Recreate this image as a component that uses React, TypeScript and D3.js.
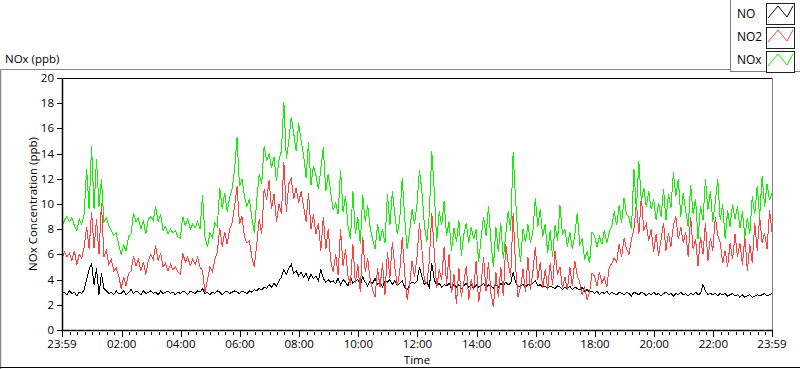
import React from "react";
import * as d3 from "d3";

// 5-minute samples from 23:59 to 23:59 next day (289 points each)
const noValues = [
  2.9, 3.0, 2.8, 3.1, 2.9, 3.0, 2.7, 3.0, 2.9, 3.2, 4.0, 4.8,
  5.3, 3.6, 4.9, 2.8, 4.5, 3.3, 3.1, 2.9, 3.0, 2.8, 3.1, 2.9,
  2.9, 3.1, 2.8, 3.0, 3.2, 2.9, 3.1, 3.0, 2.8, 3.1, 2.9, 3.0,
  3.1, 2.9, 3.0, 2.8, 3.1, 2.9, 3.0, 3.1, 2.9, 3.0, 2.8, 3.0,
  2.9, 3.1, 3.0, 2.8, 3.1, 3.0, 2.9, 3.1, 3.0, 3.3, 2.9, 3.0,
  2.8, 3.0, 2.9, 3.1, 3.0, 2.8, 3.0, 3.1, 2.9, 3.0, 3.1, 3.0,
  2.9, 3.1, 3.0, 2.9, 3.1, 3.0, 3.2, 3.1, 3.3, 3.2, 3.4, 3.3,
  3.6, 3.4, 3.7, 3.5, 3.9, 4.2, 4.8, 4.4, 4.9, 5.2, 4.5, 4.7,
  4.3, 4.6, 4.2, 4.5, 4.0, 4.4, 4.1, 4.3, 3.9, 4.8, 4.1, 3.8,
  4.0, 3.8, 3.9, 3.7, 4.1, 3.6, 4.0, 3.8, 3.5, 4.2, 3.7, 3.9,
  4.0, 3.6, 4.2, 3.8, 3.5, 3.9, 3.7, 4.1, 3.6, 3.8, 3.4, 3.9,
  3.8, 4.0, 3.6, 3.9, 3.5, 3.7, 3.9, 3.4, 3.2, 3.6, 3.8, 3.7,
  3.9, 5.0, 4.2, 3.6, 3.8, 3.4, 5.3, 4.0, 3.5, 3.7, 3.4, 3.6,
  3.5, 3.7, 3.3, 3.6, 3.4, 3.6, 3.3, 3.5, 3.7, 3.4, 3.6, 3.3,
  3.6, 3.4, 3.5, 3.7, 3.3, 3.6, 3.5, 3.3, 3.6, 3.4, 3.7, 3.5,
  3.8, 3.6, 3.7, 4.6, 3.8, 3.4, 3.5, 3.6, 3.4, 3.6, 3.5, 3.7,
  3.9, 3.5, 3.6, 3.4, 3.5, 3.3, 3.5, 3.4, 3.3, 3.5, 3.4, 3.2,
  3.4, 3.3, 3.5, 3.2, 3.4, 3.3, 3.2, 3.4, 3.1, 3.2, 3.0, 3.1,
  2.9, 3.1, 2.8, 3.0, 2.9, 3.1, 2.8, 3.0, 2.9, 2.8, 3.0, 2.9,
  2.8, 3.0, 2.9, 2.7, 3.0, 2.9, 2.8, 3.0, 2.9, 2.7, 2.9, 2.8,
  3.0, 2.8, 2.9, 2.7, 2.9, 3.0, 2.8, 2.9, 2.7, 2.9, 2.8, 3.0,
  2.8, 2.9, 2.7, 2.9, 2.8, 3.0, 2.8, 2.9, 3.6, 3.1, 2.8, 2.9,
  2.8, 2.9, 2.7, 2.9, 2.8, 2.9, 2.7, 2.8, 2.9, 2.7, 2.8, 2.6,
  2.8, 2.6, 2.7, 2.8, 2.6, 2.7, 2.8, 2.7, 2.8, 2.9, 2.7, 2.8, 2.9,
];

const no2Values = [
  5.6, 6.2, 5.8, 6.1, 5.5, 6.3, 5.2, 6.0, 5.7, 6.6, 8.2, 6.4,
  9.4, 6.5, 8.8, 6.0, 10.1, 5.8, 6.3, 5.2, 5.6, 4.7, 4.9, 4.3,
  3.3, 4.2, 3.5, 4.5, 4.7, 5.9, 5.1, 5.6, 4.7, 5.4, 4.4, 5.5,
  6.0, 5.6, 6.7, 5.5, 6.1, 5.0, 5.3, 4.7, 5.2, 4.8, 5.0, 4.6,
  4.4, 6.1, 5.4, 5.8, 5.1, 5.6, 5.2, 5.8, 5.0, 4.7, 3.0, 4.0,
  5.0, 4.6, 5.6, 6.2, 8.1, 6.6, 7.8, 6.8, 8.0, 8.5, 9.8, 11.4,
  8.4, 9.0, 7.4, 6.9, 7.1, 5.8, 5.0, 6.8, 8.8, 7.6, 11.2, 10.3,
  11.9, 9.6, 10.8, 8.6, 10.0, 9.2, 13.3, 9.4, 11.6, 12.0, 10.4, 11.3,
  10.1, 11.0, 9.8, 8.6, 10.9, 8.0, 9.2, 7.6, 8.5, 6.3, 9.0, 6.4,
  8.0, 5.5, 4.6, 6.0, 4.4, 8.0, 5.1, 6.4, 4.3, 3.6, 6.8, 3.7,
  5.2, 3.0, 7.4, 4.6, 5.7, 4.0, 3.2, 2.6, 4.9, 3.4, 5.3, 2.8,
  6.2, 4.1, 7.0, 5.0, 3.5, 4.6, 7.4, 4.5, 2.4, 3.6, 5.5, 4.2,
  5.8, 8.5, 6.4, 3.9, 3.7, 5.5, 9.3, 6.2, 3.3, 4.8, 4.0, 6.6,
  3.6, 6.0, 2.9, 4.4, 2.1, 4.9, 2.6, 3.8, 5.1, 2.4, 4.0, 3.2,
  5.5, 2.2, 3.6, 5.8, 3.1, 5.4, 2.9, 1.8, 4.6, 2.6, 5.0, 2.7,
  6.8, 5.3, 4.2, 9.3, 5.0, 2.6, 3.4, 4.8, 3.0, 5.8, 3.2, 4.6,
  6.6, 4.0, 5.4, 3.3, 4.8, 3.2, 5.3, 3.6, 6.3, 4.4, 5.0, 3.3,
  4.2, 3.2, 5.0, 3.5, 5.5, 4.3, 3.8, 2.8, 3.4, 2.4, 3.0, 4.5,
  4.3, 3.5, 4.6, 3.7, 4.2, 3.4, 5.0, 5.3, 5.7, 5.4, 6.8, 5.8,
  7.3, 6.4, 6.0, 7.2, 8.0, 10.1, 7.6, 10.6, 7.9, 8.4, 7.1, 8.0,
  6.2, 7.6, 5.9, 7.2, 8.5, 6.3, 7.7, 6.6, 8.3, 9.0, 7.2, 8.2,
  6.9, 7.8, 5.8, 9.0, 6.4, 7.2, 5.1, 7.4, 6.0, 8.5, 5.5, 7.3,
  6.3, 9.0, 7.5, 6.9, 5.3, 6.3, 5.0, 6.9, 5.6, 7.6, 5.8, 6.9,
  5.2, 7.4, 4.7, 6.8, 5.3, 8.5, 6.3, 9.0, 6.9, 7.7, 6.4, 9.5, 7.8,
];

const noxValues = [
  8.2, 8.7, 9.0, 8.6, 8.9, 8.3, 7.9, 8.8, 8.4, 9.2, 12.8, 9.6,
  14.6, 9.6, 13.6, 9.8, 12.0, 8.6, 8.9, 8.3, 7.9, 7.5, 7.7, 6.8,
  6.0, 6.7, 6.3, 7.4, 7.6, 9.3, 8.6, 8.9, 8.0, 8.7, 7.6, 8.8,
  9.0, 8.7, 9.8, 8.6, 9.2, 7.9, 8.2, 7.6, 8.0, 7.7, 7.9, 7.4,
  7.3, 9.0, 8.3, 8.8, 8.0, 8.4, 8.1, 8.6, 8.0, 10.7, 7.4, 6.6,
  7.7, 7.3, 8.5, 8.2, 11.3, 9.6, 10.9, 9.4, 10.5, 11.2, 12.7, 15.3,
  11.4, 12.0, 10.6, 9.8, 10.4, 8.9, 7.7, 10.3, 12.4, 11.6, 14.6, 13.4,
  14.0, 12.9, 13.7, 11.8, 13.5, 14.2, 18.1, 13.6, 15.0, 16.9, 15.6, 14.2,
  16.4, 15.0, 13.9, 12.1, 14.9, 11.5, 13.0, 12.3, 11.2, 12.8, 14.5, 11.0,
  12.4, 10.9, 9.5, 10.1, 9.2, 12.7, 9.4, 10.6, 8.3, 7.2, 11.0, 7.6,
  9.0, 6.8, 10.7, 8.6, 9.9, 8.1, 7.2, 6.4, 8.4, 7.1, 8.0, 6.9,
  10.8, 8.3, 11.0, 9.2, 7.6, 8.8, 12.1, 8.9, 6.4, 7.8, 9.6, 8.4,
  10.0, 12.7, 11.0, 8.3, 7.0, 9.2, 14.2, 11.0, 7.0, 9.4, 8.3, 10.2,
  7.5, 8.6, 6.3, 8.1, 7.0, 8.7, 5.9, 7.6, 8.5, 6.9, 8.2, 7.2,
  8.0, 5.4, 7.3, 9.0, 7.5, 9.8, 7.0, 5.0, 8.2, 6.2, 8.5, 5.6,
  7.6, 9.4, 7.9, 14.1, 10.3, 7.2, 5.4, 8.0, 7.0, 8.4, 6.9, 7.8,
  10.5, 8.2, 9.6, 7.4, 8.4, 6.1, 7.9, 5.8, 8.3, 7.1, 9.9, 7.6,
  8.0, 6.6, 7.8, 6.4, 7.5, 9.3, 6.8, 7.2, 5.6, 6.2, 5.3, 7.8,
  7.5, 6.6, 7.4, 6.8, 7.9, 6.9, 7.8, 8.2, 9.4, 8.3, 9.9, 8.5,
  10.5, 9.2, 8.9, 8.0, 12.8, 9.5, 13.4, 10.2, 11.3, 9.8, 11.0, 9.6,
  10.4, 8.7, 10.1, 9.0, 11.2, 8.7, 10.8, 9.7, 12.5, 10.6, 12.0, 9.0,
  10.9, 9.4, 8.2, 11.5, 9.2, 10.4, 7.2, 9.8, 8.7, 12.0, 9.5, 11.0,
  8.6, 10.2, 12.0, 8.7, 10.0, 7.2, 9.5, 8.2, 10.0, 8.8, 9.8, 8.1,
  9.4, 7.4, 8.9, 7.6, 10.6, 9.2, 11.4, 9.0, 12.2, 9.8, 11.6, 10.3, 10.9,
];

const yTicks = [0, 2, 4, 6, 8, 10, 12, 14, 16, 18, 20];
const xTickLabels = ["23:59", "02:00", "04:00", "06:00", "08:00", "10:00", "12:00",
  "14:00", "16:00", "18:00", "20:00", "22:00", "23:59"];

const series = [
  { name: "NO", values: noValues, color: "#000000" },
  { name: "NO2", values: no2Values, color: "#ff4040" },
  { name: "NOx", values: noxValues, color: "#10f000" },
];

const W = 800, H = 369;
const plot = { left: 62, top: 78, right: 772, bottom: 330 };
const font = "'Open Sans', sans-serif";

const start = new Date(2000, 0, 1, 23, 59);
const end = new Date(2000, 0, 2, 23, 59);
const times = noValues.map((_, i) => d3.timeMinute.offset(start, i * 5));

export default function App() {
  const x = d3.scaleTime().domain([start, end]).range([plot.left, plot.right]);
  const y = d3.scaleLinear().domain([0, 20]).range([plot.bottom, plot.top]);

  const line = (vals: number[]) =>
    d3.line<number>().x((_, i) => x(times[i])).y((d) => y(d))(vals) || "";

  // major ticks: the ends and every 2 hours; minor every 15 minutes
  const majorTimes = [start, ...d3.range(1, 12).map((k) => new Date(2000, 0, 2, 2 * k, 0)), end];
  const minorTimes = d3.timeMinute.every(15)!.range(start, end)
    .filter((t) => majorTimes.every((m) => Math.abs(x(m) - x(t)) > 2));

  const legendX = 730;

  return (
    <div style={{ position: "absolute", left: 0, top: 0 }}>
      <svg width={W} height={H} style={{ display: "block", fontFamily: font }}>
        <rect x={0} y={0} width={W} height={H} fill="#fff" />
        <text x={5} y={63} fontSize={11.5} fill="#000">NOx (ppb)</text>

        {/* outer frame */}
        <line x1={0.5} y1={69.5} x2={W} y2={69.5} stroke="#8a8a8a" />
        <line x1={0.5} y1={69.5} x2={0.5} y2={H} stroke="#8a8a8a" strokeWidth={1.5} />
        <line x1={0} y1={367.5} x2={W} y2={367.5} stroke="#000" />

        {/* plot frame */}
        <line x1={plot.left} y1={plot.top + 0.5} x2={plot.right} y2={plot.top + 0.5} stroke="#000" />
        <line x1={plot.right + 0.5} y1={plot.top} x2={plot.right + 0.5} y2={plot.bottom} stroke="#808080" />

        {/* data */}
        <g shapeRendering="crispEdges" fill="none" strokeWidth={1}>
          {series.map((s) => (
            <path key={s.name} d={line(s.values)} stroke={s.color} />
          ))}
        </g>

        {/* y axis */}
        <line x1={plot.left + 0.5} y1={plot.top} x2={plot.left + 0.5} y2={plot.bottom + 1} stroke="#000" strokeWidth={1.5} />
        {yTicks.map((t) => (
          <g key={t}>
            <line x1={plot.left - 5} x2={plot.left} y1={Math.round(y(t)) + 0.5} y2={Math.round(y(t)) + 0.5} stroke="#000" />
            <text x={plot.left - 8} y={y(t) + 4} textAnchor="end" fontSize={11.5} fill="#000">{t}</text>
          </g>
        ))}
        <text transform={`translate(37,${(plot.top + plot.bottom) / 2}) rotate(-90)`} textAnchor="middle" fontSize={11.5} fill="#000">
          NOx Concentration (ppb)
        </text>

        {/* x axis */}
        <line x1={plot.left} y1={plot.bottom + 0.5} x2={plot.right + 1} y2={plot.bottom + 0.5} stroke="#000" strokeWidth={1.5} />
        {minorTimes.map((t, i) => (
          <line key={i} x1={Math.round(x(t)) + 0.5} x2={Math.round(x(t)) + 0.5} y1={plot.bottom + 2} y2={plot.bottom + 5} stroke="#000" />
        ))}
        {majorTimes.map((t, i) => (
          <g key={i}>
            <line x1={Math.round(x(t)) + 0.5} x2={Math.round(x(t)) + 0.5} y1={plot.bottom + 1} y2={plot.bottom + 7} stroke="#000" />
            <text x={x(t)} y={348} textAnchor="middle" fontSize={11.5} fill="#000">{xTickLabels[i]}</text>
          </g>
        ))}
        <text x={(plot.left + plot.right) / 2} y={364} textAnchor="middle" fontSize={11.5} fill="#000">Time</text>

        {/* legend */}
        <rect x={legendX + 0.5} y={-1} width={W - legendX} height={72.5} fill="#fff" stroke="#808080" />
        {series.map((s, i) => {
          const by = 3.5 + i * 24;
          const bx = 766.5;
          const zig = d3.line()([[bx + 1.5, by + 14.5], [bx + 11.5, by + 2.5], [bx + 20.5, by + 13.5], [bx + 26.5, by + 2.5]]) || "";
          return (
            <g key={s.name}>
              <text x={737} y={18 + i * 23} fontSize={12} fill="#000">{s.name}</text>
              <rect x={bx} y={by} width={28} height={21} fill="#fff" stroke="#222" />
              <path d={zig} fill="none" stroke={s.color} strokeWidth={1} />
            </g>
          );
        })}
      </svg>
    </div>
  );
}
